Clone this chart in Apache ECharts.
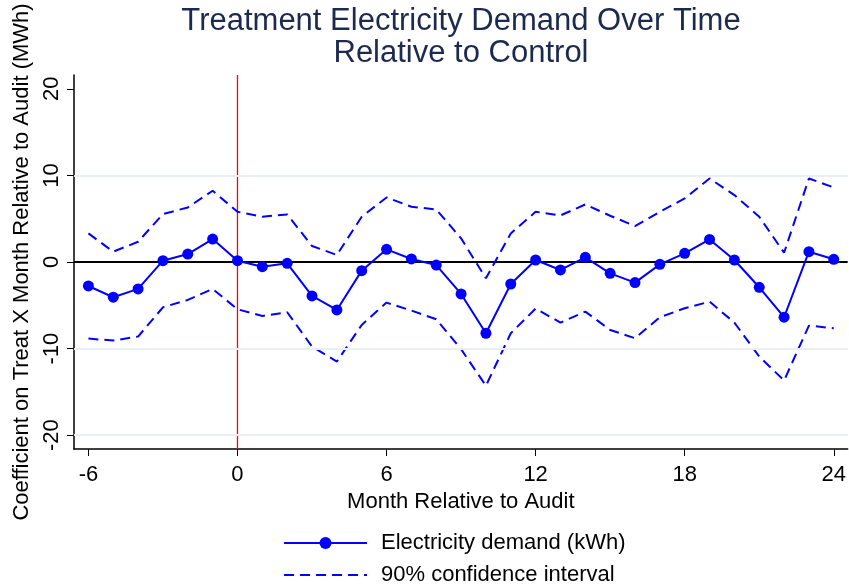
<!DOCTYPE html>
<html>
<head>
<meta charset="utf-8">
<title>Treatment Electricity Demand Over Time</title>
<script src="https://cdn.jsdelivr.net/npm/echarts@6/dist/echarts.min.js"></script>
<style>
  html, body { margin: 0; padding: 0; background: #fff; }
  #chart { width: 849px; height: 588px; }
</style>
</head>
<body>
<div id="chart"></div>
<script>
// Event-study coefficients by month relative to the audit
const months = [-6, -5, -4, -3, -2, -1, 0, 1, 2, 3, 4, 5, 6, 7, 8, 9, 10, 11, 12, 13, 14, 15, 16, 17, 18, 19, 20, 21, 22, 23, 24];
const coef = [-2.77, -4.07, -3.11, 0.15, 0.92, 2.65, 0.15, -0.54, -0.15, -3.92,
  -5.54, -1.0, 1.46, 0.35, -0.35, -3.69, -8.23, -2.54, 0.23, -0.92, 0.54,
  -1.31, -2.38, -0.27, 1.0, 2.61, 0.23, -2.92, -6.38, 1.19, 0.31];
const ciUpper = [3.3, 1.19, 2.34, 5.54, 6.3, 8.23, 5.8, 5.23, 5.5, 1.85,
  0.81, 5.23, 7.46, 6.38, 6.07, 2.73, -1.88, 3.3, 5.8, 5.38, 6.65,
  5.34, 4.15, 5.8, 7.34, 9.65, 7.73, 5.23, 1.07, 9.65, 8.61];
const ciLower = [-8.85, -9.07, -8.61, -5.23, -4.38, -3.11, -5.46, -6.23, -5.8, -9.77,
  -11.5, -7.27, -4.69, -5.61, -6.61, -10.07, -14.3, -8.23, -5.38, -7.0, -5.73,
  -7.85, -8.8, -6.38, -5.34, -4.58, -7.0, -10.92, -13.69, -7.35, -7.65];

const xTicks = [-6, 0, 6, 12, 18, 24];
const yTicks = [-20, -10, 0, 10, 20];
const gridValues = [-20, -10, 10];
const auditMonth = 0;

const X_MIN = -6.58, X_MAX = 24.56;
const Y_MIN = -21.6, Y_MAX = 21.6;

const FONT = "'Liberation Sans', Arial, Helvetica, sans-serif";
const BLUE = '#0000ff';
const NAME_COEF = 'Electricity demand (kWh)';
const NAME_CI = '90% confidence interval';

const pair = (arr) => months.map((m, i) => [m, arr[i]]);

const legendText = {
  fontFamily: FONT,
  fontSize: 22,
  color: '#000',
  lineHeight: 15,
  padding: [0, 0, 0, 9]
};

const chart = echarts.init(document.getElementById('chart'), null, { renderer: 'canvas' });

chart.setOption({
  animation: false,
  backgroundColor: '#ffffff',
  textStyle: { fontFamily: FONT },
  title: {
    text: 'Treatment Electricity Demand Over Time\nRelative to Control',
    left: 461,
    top: 5,
    textAlign: 'center',
    padding: 0,
    textStyle: {
      fontFamily: FONT,
      fontSize: 31,
      fontWeight: 'normal',
      color: '#1c2a50',
      lineHeight: 32
    }
  },
  grid: { left: 74, right: 1, top: 75, bottom: 139, containLabel: false },
  legend: [
    {
      left: 283,
      top: 532,
      padding: 0,
      itemWidth: 83,
      itemHeight: 15,
      data: [NAME_COEF],
      textStyle: legendText
    },
    {
      left: 283,
      top: 564,
      padding: 0,
      itemWidth: 83,
      itemHeight: 15,
      data: [{ name: NAME_CI, itemStyle: { color: 'transparent', borderColor: 'transparent', opacity: 0 } }],
      textStyle: legendText
    }
  ],
  xAxis: {
    type: 'value',
    min: X_MIN,
    max: X_MAX,
    name: 'Month Relative to Audit',
    nameLocation: 'middle',
    nameGap: 29,
    nameTextStyle: { fontFamily: FONT, fontSize: 22, color: '#000' },
    axisLine: { show: true, onZero: false, lineStyle: { color: '#000', width: 1.5 } },
    axisTick: { show: true, length: 7, customValues: xTicks, lineStyle: { color: '#000', width: 1 } },
    axisLabel: { customValues: xTicks, fontFamily: FONT, fontSize: 22, color: '#000', margin: 15 },
    splitLine: { show: false }
  },
  yAxis: {
    type: 'value',
    min: Y_MIN,
    max: Y_MAX,
    name: 'Coefficient on Treat X Month Relative to Audit (MWh)',
    nameLocation: 'middle',
    nameRotate: 90,
    nameGap: 38,
    nameTextStyle: { fontFamily: FONT, fontSize: 22, color: '#000' },
    axisLine: { show: true, onZero: false, lineStyle: { color: '#000', width: 1.5 } },
    axisTick: { show: true, length: 7, customValues: yTicks, lineStyle: { color: '#000', width: 1 } },
    axisLabel: { customValues: yTicks, rotate: 90, fontFamily: FONT, fontSize: 22, color: '#000', margin: 11 },
    splitLine: { show: false }
  },
  series: [
    // light horizontal grid lines
    {
      type: 'line',
      data: [],
      silent: true,
      z: 1,
      markLine: {
        silent: true,
        symbol: 'none',
        animation: false,
        label: { show: false },
        lineStyle: { color: '#e9eff5', width: 2, type: 'solid' },
        data: gridValues.map(v => ({ yAxis: v }))
      }
    },
    // zero line
    {
      type: 'line',
      data: [[X_MIN, 0], [X_MAX, 0]],
      silent: true,
      symbol: 'none',
      z: 2,
      lineStyle: { color: '#000000', width: 2 }
    },
    // audit month marker
    {
      type: 'line',
      data: [[auditMonth, Y_MIN], [auditMonth, Y_MAX]],
      silent: true,
      symbol: 'none',
      z: 2,
      lineStyle: { color: '#ff0000', width: 1.3 }
    },
    {
      name: NAME_CI,
      type: 'line',
      data: pair(ciUpper),
      symbol: 'none',
      z: 3,
      lineStyle: { color: BLUE, width: 2, type: [10, 6] },
      itemStyle: { color: BLUE }
    },
    {
      name: NAME_CI,
      type: 'line',
      data: pair(ciLower),
      symbol: 'none',
      z: 3,
      lineStyle: { color: BLUE, width: 2, type: [10, 6] },
      itemStyle: { color: BLUE }
    },
    {
      name: NAME_COEF,
      type: 'line',
      data: pair(coef),
      symbol: 'circle',
      symbolSize: 11,
      z: 4,
      lineStyle: { color: BLUE, width: 2 },
      itemStyle: { color: BLUE }
    }
  ]
});
</script>
</body>
</html>
